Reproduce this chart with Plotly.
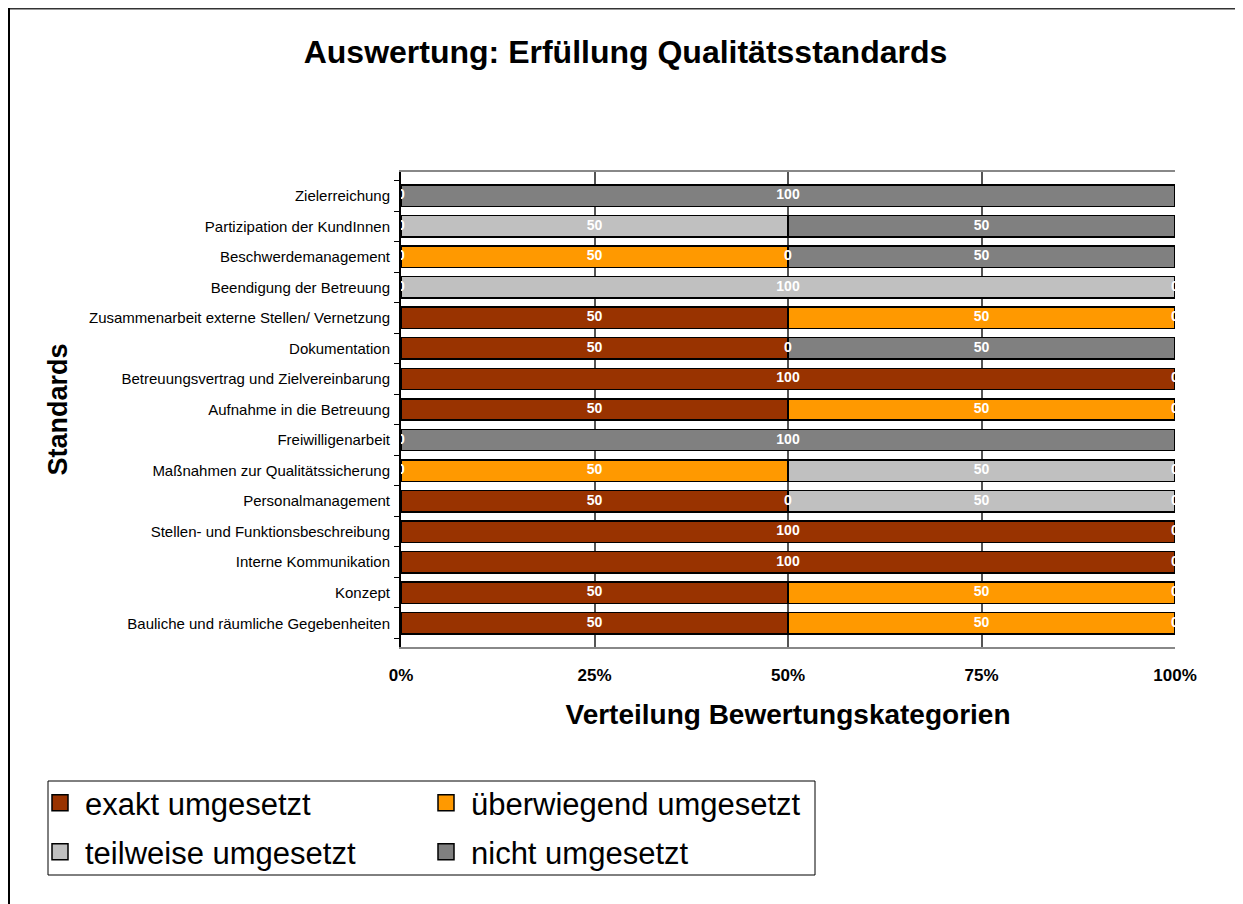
import plotly.graph_objects as go

categories = [
    "Bauliche und räumliche Gegebenheiten",
    "Konzept",
    "Interne Kommunikation",
    "Stellen- und Funktionsbeschreibung",
    "Personalmanagement",
    "Maßnahmen zur Qualitätssicherung",
    "Freiwilligenarbeit",
    "Aufnahme in die Betreuung",
    "Betreuungsvertrag und Zielvereinbarung",
    "Dokumentation",
    "Zusammenarbeit externe Stellen/ Vernetzung",
    "Beendigung der Betreuung",
    "Beschwerdemanagement",
    "Partizipation der KundInnen",
    "Zielerreichung",
]

series_names = ["exakt umgesetzt", "überwiegend umgesetzt", "teilweise umgesetzt", "nicht umgesetzt"]
series_colors = ["#993300", "#FF9900", "#C0C0C0", "#808080"]
series_legend_rows = ["legend", "legend", "legend2", "legend2"]

# None = no value / no label, 0 = labelled zero
exakt =        [50, 50, 100, 100, 50, 0, 0, 50, 100, 50, 50, 0, 0, 0, 0]
ueberwiegend = [50, 50, 0, 0, 0, 50, None, 50, 0, 0, 50, None, 50, None, None]
teilweise =    [0, 0, None, None, 50, 50, None, 0, None, None, 0, 100, 0, 50, None]
nicht =        [None, None, None, None, 0, 0, 100, None, None, 50, None, 0, 50, 50, 100]

series_values = [exakt, ueberwiegend, teilweise, nicht]

FONT = "Arial, Liberation Sans, sans-serif"

W, H = 1235, 896
L, R, T, B = 393, 68, 164, 257
PW, PH = W - L - R, H - T - B


def px_x(x):
    return (x - L) / PW


def px_y(y):
    return (H - B - y) / PH


fig = go.Figure()
for name, color, vals, lg in zip(series_names, series_colors, series_values, series_legend_rows):
    fig.add_trace(go.Bar(
        y=categories,
        x=[v if v is not None else 0 for v in vals],
        name=name,
        orientation="h",
        marker=dict(color=color, line=dict(color="black", width=1.5)),
        hoverinfo="x+y+name",
        legendgroup=name,
        showlegend=False,
    ))
    # legend key (larger square swatch, as in the original)
    fig.add_trace(go.Scatter(
        x=[None], y=[None], mode="markers", name=name,
        marker=dict(symbol="square", size=16, color=color,
                    line=dict(color="black", width=1.5)),
        legendgroup=name, legend=lg, showlegend=True, hoverinfo="skip",
    ))

# data labels centred in each segment (zeros shown at the boundary)
lab_x, lab_y, lab_t = [], [], []
cum = [0.0] * len(categories)
for vals in series_values:
    for i, v in enumerate(vals):
        if v is None:
            continue
        lab_x.append(cum[i] + v / 2.0)
        lab_y.append(categories[i])
        lab_t.append(str(v))
        cum[i] += v

fig.add_trace(go.Scatter(
    x=lab_x, y=lab_y, text=lab_t, mode="text",
    textfont=dict(family=FONT, size=14, color="white", weight="bold"),
    textposition="middle center",
    showlegend=False, hoverinfo="skip", cliponaxis=True,
))

legend_common = dict(
    orientation="h",
    xref="paper", yref="paper",
    x=px_x(27), xanchor="left",
    yanchor="middle",
    font=dict(family=FONT, size=31, color="black"),
    borderwidth=0,
    bgcolor="rgba(0,0,0,0)",
    entrywidth=331,
    itemwidth=40,
    itemsizing="trace",
    traceorder="normal",
)

fig.update_layout(
    width=W, height=H,
    barmode="stack",
    bargap=0.3,
    paper_bgcolor="white",
    plot_bgcolor="white",
    font=dict(family=FONT, color="black"),
    margin=dict(l=L, r=R, t=T, b=B, autoexpand=False),
    title=dict(
        text="<b>Auswertung: Erfüllung Qualitätsstandards</b>",
        x=0.5, xanchor="center", xref="container",
        y=1 - 44 / H, yanchor="middle", yref="container",
        font=dict(family=FONT, size=32, color="black"),
    ),
    xaxis=dict(
        range=[0, 100],
        tickvals=[0, 25, 50, 75, 100],
        ticktext=["0%", "25%", "50%", "75%", "100%"],
        tickfont=dict(family=FONT, size=17, color="black", weight="bold"),
        ticklabelstandoff=12,
        showgrid=True, gridcolor="#555555", gridwidth=1.5,
        zeroline=False,
        showline=True, linecolor="#888888", linewidth=2, mirror=True,
        ticks="",
        title=dict(text="<b>Verteilung Bewertungskategorien</b>",
                   font=dict(family=FONT, size=28, color="black"), standoff=20),
        fixedrange=True,
    ),
    yaxis=dict(
        type="category",
        categoryorder="array", categoryarray=categories,
        tickfont=dict(family=FONT, size=15, color="black"),
        ticks="outside", ticklen=5, tickcolor="black", tickwidth=1,
        tickson="boundaries",
        ticklabelstandoff=6,
        showline=True, linecolor="black", linewidth=2,
        showgrid=False,
        title=dict(text="<b>Standards</b>",
                   font=dict(family=FONT, size=27, color="black"), standoff=14),
        fixedrange=True,
    ),
    legend=dict(legend_common, y=px_y(795)),
    legend2=dict(legend_common, y=px_y(844)),
    shapes=[
        # legend frame
        dict(type="rect", xref="paper", yref="paper",
             x0=px_x(40), x1=px_x(807), y0=px_y(773), y1=px_y(867),
             line=dict(color="black", width=1), fillcolor="rgba(0,0,0,0)", layer="below"),
        # chart frame
        dict(type="line", xref="paper", yref="paper",
             x0=px_x(0), x1=px_x(1233), y0=px_y(0.5), y1=px_y(0.5),
             line=dict(color="#333333", width=2)),
        dict(type="line", xref="paper", yref="paper",
             x0=px_x(1), x1=px_x(1), y0=px_y(0), y1=px_y(H),
             line=dict(color="black", width=2)),
        dict(type="line", xref="paper", yref="paper",
             x0=px_x(1233), x1=px_x(1233), y0=px_y(0), y1=px_y(H),
             line=dict(color="#cccccc", width=2)),
    ],
)

fig.write_html("out.html")
